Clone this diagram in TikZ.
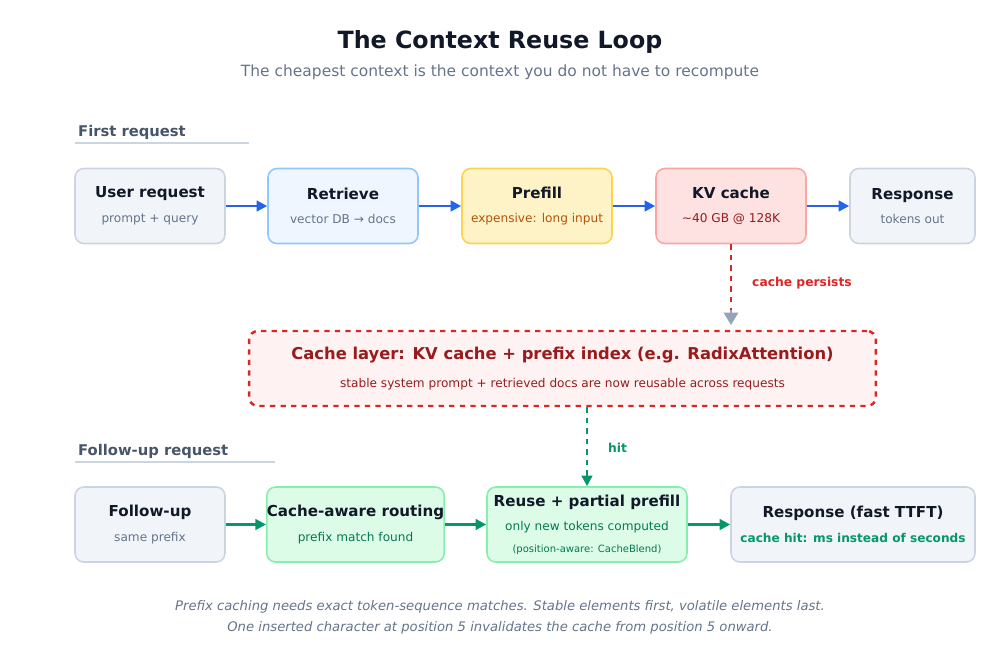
\documentclass[tikz,border=0pt]{standalone}
\usepackage{fontspec}
\setmainfont{DejaVu Sans}
\usetikzlibrary{arrows.meta,positioning}
\definecolor{ink}{HTML}{111827}
\definecolor{muted}{HTML}{64748B}
\definecolor{slate}{HTML}{475569}
\definecolor{grayfill}{HTML}{F1F4F8}\definecolor{grayline}{HTML}{CBD5E1}
\definecolor{bluefill}{HTML}{EFF6FF}\definecolor{blueline}{HTML}{93C5FD}
\definecolor{yelfill}{HTML}{FEF3C7}\definecolor{yelline}{HTML}{FCD34D}
\definecolor{redfill}{HTML}{FEE2E2}\definecolor{redline}{HTML}{FCA5A5}
\definecolor{grnfill}{HTML}{DCFCE7}\definecolor{grnline}{HTML}{86EFAC}
\definecolor{cachefill}{HTML}{FEF2F2}\definecolor{cacheline}{HTML}{DC2626}
\definecolor{darkred}{HTML}{991B1B}\definecolor{amber}{HTML}{B45309}
\definecolor{blueflow}{HTML}{2563EB}\definecolor{greenflow}{HTML}{059669}
\definecolor{tipgray}{HTML}{94A3B8}
\tikzset{
  box/.style={draw, rounded corners=5pt, line width=0.9pt, minimum height=1.5cm, align=center, inner sep=0pt},
  flow/.style={-{Triangle[length=6pt,width=6pt]}, line width=1.4pt, blueflow},
  gflow/.style={-{Triangle[length=6pt,width=6pt]}, line width=1.4pt, greenflow},
  section/.style={font=\fontsize{8.4}{10}\selectfont\bfseries, text=slate, anchor=west}
}
\newcommand{\boxtext}[3]{{\fontsize{8.6}{11}\selectfont\bfseries\color{ink}#1}\\[2pt]{\fontsize{6.9}{9}\selectfont\color{#3}#2}}
\begin{document}
\begin{tikzpicture}[x=0.02cm,y=-0.02cm]
\useasboundingbox (0,0) rectangle (1000,650);
% Title
\node (title) at (500,42) {\fontsize{13.5}{16}\selectfont\bfseries\color{ink}The Context Reuse Loop};
\node (subtitle) at (500,72) {\fontsize{8.8}{11}\selectfont\color{muted}The cheapest context is the context you do not have to recompute};
% First request
\node[section] (first) at (72,132) {First request};
\draw[grayline, line width=0.8pt] (75,143) -- (249,143);
\node[box, fill=grayfill, draw=grayline, minimum width=3cm] (user) at (150,206) {\boxtext{User request}{prompt + query}{muted}};
\node[box, fill=bluefill, draw=blueline, minimum width=3cm] (retr) at (343,206) {\boxtext{Retrieve}{vector DB → docs}{muted}};
\node[box, fill=yelfill, draw=yelline, minimum width=3cm] (pref) at (537,206) {\boxtext{Prefill}{expensive: long input}{amber}};
\node[box, fill=redfill, draw=redline, minimum width=3cm] (kv) at (731,206) {\boxtext{KV cache}{\textasciitilde40 GB @ 128K}{darkred}};
\node[box, fill=grayfill, draw=grayline, minimum width=2.5cm] (resp) at (912.5,206) {\boxtext{Response}{tokens out}{muted}};
\draw[flow] (user) -- (retr);
\draw[flow] (retr) -- (pref);
\draw[flow] (pref) -- (kv);
\draw[flow] (kv) -- (resp);
% Cache layer
\node[box, fill=cachefill, draw=cacheline, dashed, line width=1.4pt, minimum width=12.54cm] (cache) at (562.5,368.5)
  {{\fontsize{9.3}{12}\selectfont\bfseries\color{darkred}Cache layer: KV cache + prefix index (e.g. RadixAttention)}\\[4pt]{\fontsize{6.9}{9}\selectfont\color{darkred}stable system prompt + retrieved docs are now reusable across requests}};
\coordinate (cachetop) at (731,325);
\draw[dashed, line width=1.4pt, cacheline] (kv.south) -- ++(0,70);
\draw[-{Triangle[length=7pt,width=8pt]}, tipgray, line width=1.4pt] (731,310) -- (cachetop);
\node[font=\fontsize{7}{9}\selectfont\bfseries, text=cacheline, anchor=west] (persist) at (746,283) {cache persists};
% Follow-up request
\node[section] (follow) at (72,451) {Follow-up request};
\draw[grayline, line width=0.8pt] (75,462) -- (275,462);
\node[box, fill=grayfill, draw=grayline, minimum width=3cm] (fu) at (150,524.5) {\boxtext{Follow-up}{same prefix}{muted}};
\node[box, fill=grnfill, draw=grnline, minimum width=3.5cm] (route) at (355.5,524.5) {\boxtext{Cache-aware routing}{prefix match found}{greenflow!80!black}};
\node[box, fill=grnfill, draw=grnline, minimum width=4cm] (reuse) at (587,524.5)
  {{\fontsize{8.6}{11}\selectfont\bfseries\color{ink}Reuse + partial prefill}\\[2pt]{\fontsize{6.9}{9}\selectfont\color{greenflow!80!black}only new tokens computed}\\[0pt]{\fontsize{5.7}{8}\selectfont\color{greenflow!80!black}(position-aware: CacheBlend)}};
\node[box, fill=grayfill, draw=grayline, minimum width=4.88cm] (fast) at (853,524.5)
  {\boxtext{Response (fast TTFT)}{\bfseries cache hit: ms instead of seconds}{greenflow}};
\draw[gflow] (fu) -- (route);
\draw[gflow] (route) -- (reuse);
\draw[gflow] (reuse) -- (fast);
\draw[gflow, dashed] (cache.south -| reuse.north) -- (reuse.north);
\node[font=\fontsize{7}{9}\selectfont\bfseries, text=greenflow, anchor=west] (hit) at (602,448) {hit};
% Footer
\node[font=\fontsize{7.5}{12}\selectfont\itshape, text=muted, align=center] (note) at (500,617)
  {Prefix caching needs exact token-sequence matches. Stable elements first, volatile elements last.\\One inserted character at position 5 invalidates the cache from position 5 onward.};
\end{tikzpicture}
\end{document}
